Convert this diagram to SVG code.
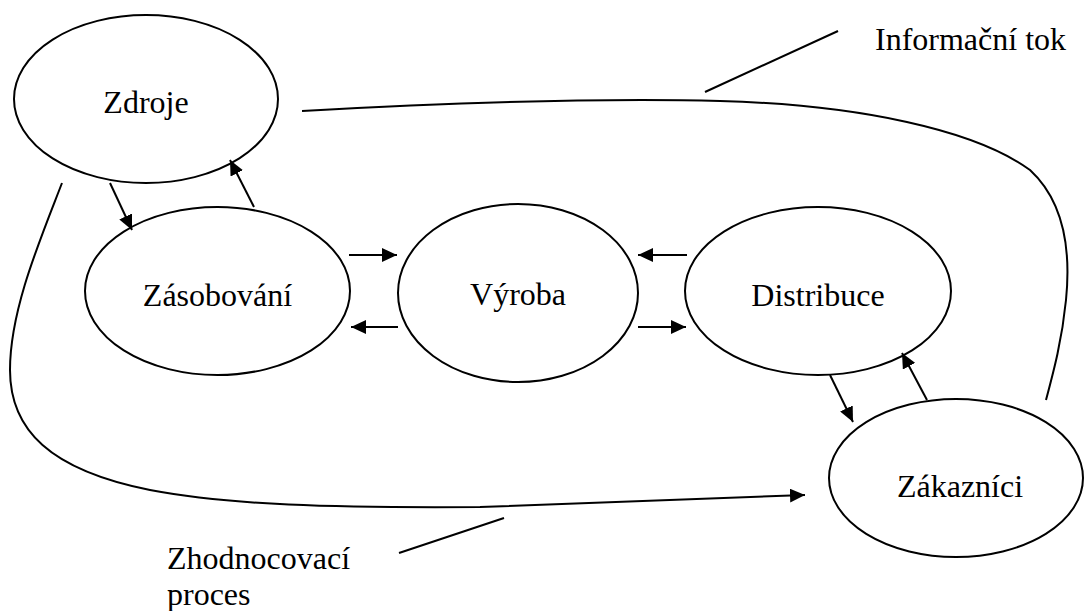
<svg xmlns="http://www.w3.org/2000/svg" width="1088" height="611" viewBox="0 0 1088 611">
<style>
.node{fill:#fff;stroke:#000;stroke-width:2}
.lbl{font-family:"Liberation Serif","Times New Roman",serif;font-size:32px;fill:#000}
.c{text-anchor:middle}
.ln{fill:none;stroke:#000;stroke-width:2}
</style>
<defs>
<marker id="ah" markerUnits="userSpaceOnUse" markerWidth="16" markerHeight="14" refX="15" refY="7" orient="auto">
<path d="M0,0 L15,7 L0,14 z" fill="#000"/>
</marker>
</defs>
<rect width="1088" height="611" fill="#fff"/>
<g id="zdroje"><ellipse class="node" cx="146" cy="99" rx="132" ry="84"/><text class="lbl c" x="146" y="113">Zdroje</text></g>
<g id="zasobovani"><ellipse class="node" cx="217.5" cy="291" rx="132.5" ry="84"/><text class="lbl c" x="217.5" y="306">Zásobování</text></g>
<g id="vyroba"><ellipse class="node" cx="518" cy="293" rx="120" ry="89"/><text class="lbl c" x="518" y="305">Výroba</text></g>
<g id="distribuce"><ellipse class="node" cx="818" cy="291" rx="133" ry="84"/><text class="lbl c" x="818" y="306">Distribuce</text></g>
<g id="zakaznici"><ellipse class="node" cx="956" cy="478" rx="127" ry="79"/><text class="lbl c" x="960" y="497">Zákazníci</text></g>
<g id="connectors">
<line class="ln" x1="110" y1="183" x2="132" y2="230" marker-end="url(#ah)"/>
<line class="ln" x1="254" y1="207" x2="230" y2="160" marker-end="url(#ah)"/>
<line class="ln" x1="349" y1="255" x2="397" y2="255" marker-end="url(#ah)"/>
<line class="ln" x1="398" y1="327" x2="351" y2="327" marker-end="url(#ah)"/>
<line class="ln" x1="687" y1="255" x2="638" y2="255" marker-end="url(#ah)"/>
<line class="ln" x1="638" y1="327" x2="686" y2="327" marker-end="url(#ah)"/>
<line class="ln" x1="830" y1="375" x2="853" y2="422" marker-end="url(#ah)"/>
<line class="ln" x1="927" y1="400" x2="902" y2="353" marker-end="url(#ah)"/>
<path class="ln" d="M302,111 C500,100 640,99 720,101 C860,105 975,130 1030,170 C1068,205 1070,260 1066,300 C1062,340 1054,370 1046,400"/>
<path class="ln" d="M62,183 C40,240 10,310 10,370 C10,430 50,470 150,490 C230,505 330,508 480,507 L805,495" marker-end="url(#ah)"/>
<line class="ln" x1="705" y1="92" x2="838" y2="31"/>
<line class="ln" x1="399" y1="553" x2="504" y2="518"/>
</g>
<text class="lbl" x="875" y="50">Informační tok</text>
<text class="lbl" x="167" y="569">Zhodnocovací</text>
<text class="lbl" x="167" y="605">proces</text>
</svg>
